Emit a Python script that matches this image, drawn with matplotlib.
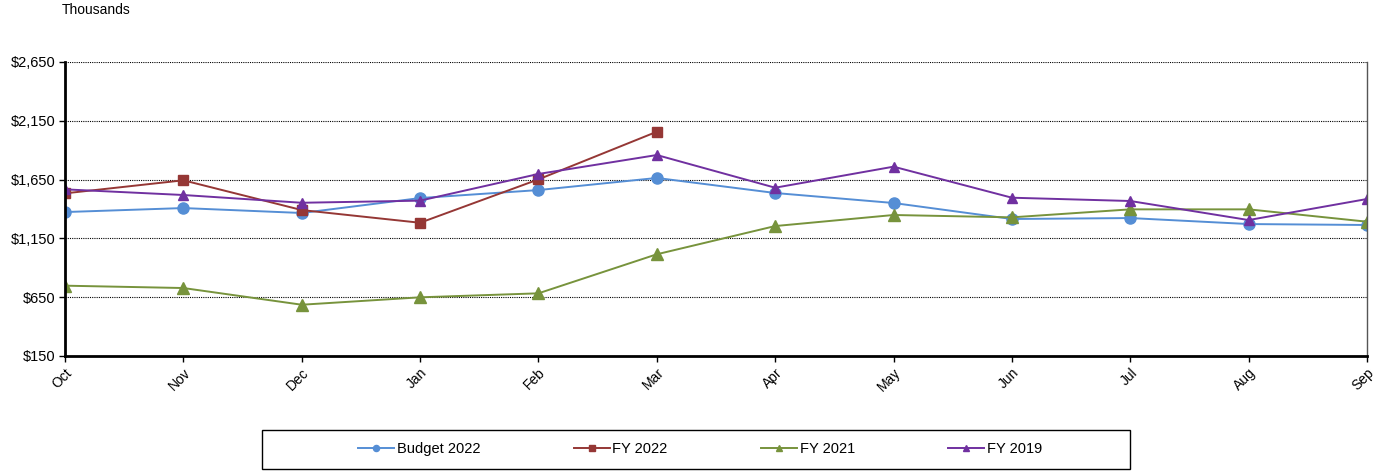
import matplotlib.pyplot as plt
from matplotlib.patches import Rectangle
import numpy as np

plt.rcParams['font.family'] = ['Liberation Sans', 'DejaVu Sans']

months = ['Oct', 'Nov', 'Dec', 'Jan', 'Feb', 'Mar', 'Apr', 'May', 'Jun', 'Jul', 'Aug', 'Sep']
budget_2022 = [1374, 1408, 1366, 1493, 1561, 1664, 1536, 1451, 1315, 1323, 1272, 1264]
fy_2022 = [1533, 1644, 1391, 1283, 1652, 2057]
fy_2021 = [748, 728, 586, 649, 683, 1015, 1255, 1349, 1329, 1397, 1397, 1292]
fy_2019 = [1567, 1519, 1453, 1471, 1698, 1859, 1581, 1760, 1496, 1468, 1306, 1485]
y_ticks = [150, 650, 1150, 1650, 2150, 2650]

fig = plt.figure(figsize=(13.75, 4.72), dpi=100)
ax = fig.add_axes([65/1375, 1 - 356/472, (1367 - 65)/1375, (356 - 62)/472])

x = np.arange(len(months))
ax.plot(x, budget_2022, color='#558ED5', marker='o', markersize=8, lw=1.4, label='Budget 2022')
ax.plot(x[:len(fy_2022)], fy_2022, color='#953735', marker='s', markersize=7.5, lw=1.4, label='FY 2022')
ax.plot(x, fy_2021, color='#77933C', marker='^', markersize=8, lw=1.4, label='FY 2021')
ax.plot(x, fy_2019, color='#7030A0', marker='^', markersize=7, lw=1.4, label='FY 2019')

ax.set_xlim(0, len(months) - 1)
ax.set_ylim(150, 2650)
ax.set_xticks(x)
ax.set_xticklabels(months, rotation=45, ha='right', rotation_mode='anchor', fontsize=10)
ax.set_yticks(y_ticks)
ax.set_yticklabels([f'${v:,}' for v in y_ticks], fontsize=10.5)
ax.tick_params(axis='both', length=4, width=1, color='black', pad=3)
ax.yaxis.grid(True, linestyle=(0, (1, 1)), color='black', lw=0.8)
ax.set_axisbelow(True)

for s in ['left', 'bottom']:
    ax.spines[s].set_linewidth(2)
ax.spines['top'].set_visible(False)
ax.spines['right'].set_color('#555555')
ax.spines['right'].set_linewidth(1)

fig.text(62/1375, 1 - 10/472, 'Thousands', fontsize=10, va='center', ha='left')

# legend box
fig.patches.append(Rectangle((262/1375, 1 - 469/472), (1130 - 262)/1375, 39/472,
                             transform=fig.transFigure, fill=False, ec='black', lw=1))
fig.legend(loc='center left', bbox_to_anchor=(351/1375, 1 - 449/472), ncol=4, frameon=False,
           fontsize=10.5, handlelength=2.45, handletextpad=0.2, columnspacing=6.4,
           borderpad=0, markerscale=0.55)

fig.savefig('out.png', dpi=100)
